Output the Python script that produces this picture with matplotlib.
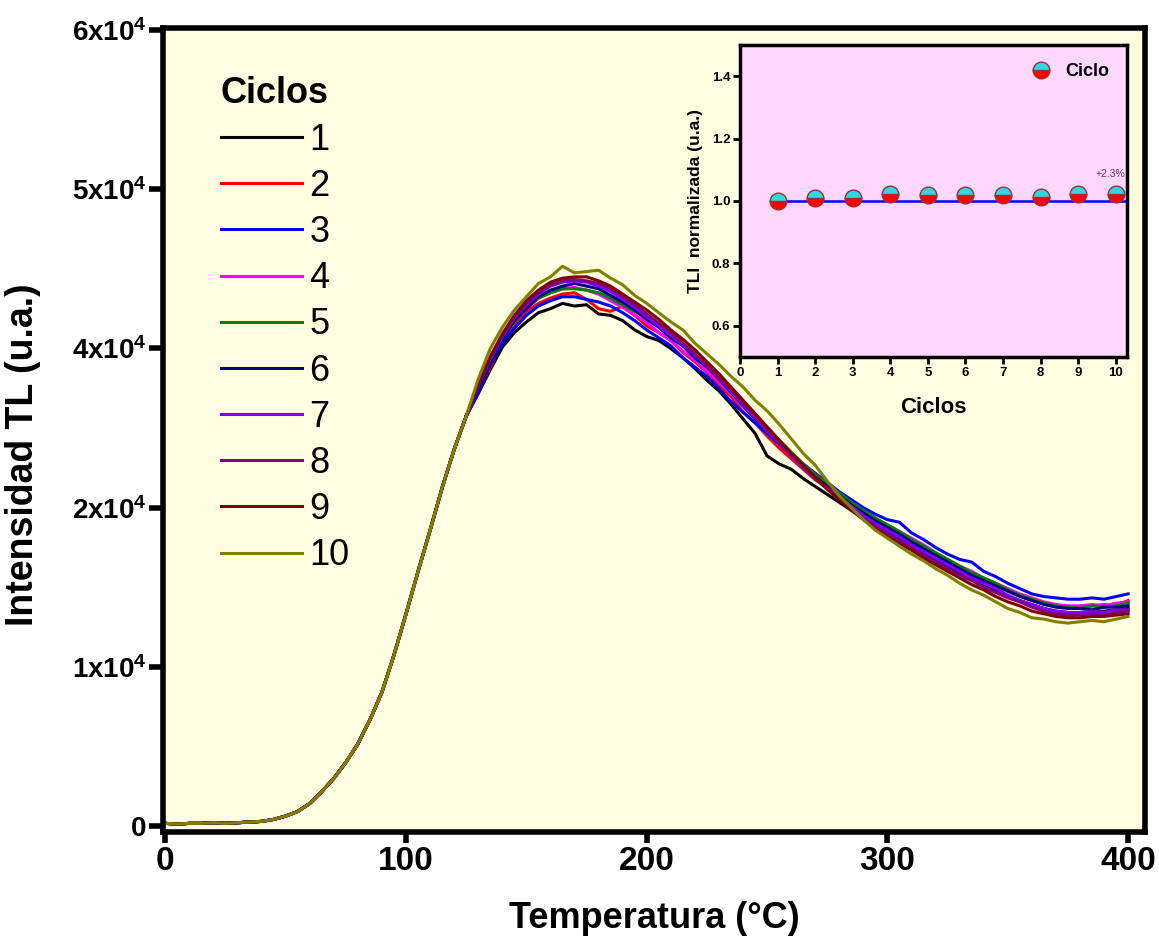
import numpy as np
import matplotlib
matplotlib.use('Agg')
import matplotlib.pyplot as plt

plt.rcParams['font.family'] = ['Liberation Sans', 'DejaVu Sans']
plt.rcParams['mathtext.fontset'] = 'custom'
plt.rcParams['mathtext.rm'] = 'Liberation Sans:bold'
plt.rcParams['mathtext.bf'] = 'Liberation Sans:bold'
plt.rcParams['mathtext.default'] = 'rm'

# temperatura en pasos de 5 °C
temp = np.arange(0, 401, 5)

# flanco de subida comun a todos los ciclos (0-125 °C), intensidad en 10^3 u.a.
subida = [0.2, 0.15, 0.2, 0.2, 0.25, 0.2, 0.25, 0.3, 0.35, 0.5, 0.75, 1.1, 1.7,
          2.6, 3.6, 4.8, 6.2, 8.0, 10.1, 12.9, 16.0, 19.2, 22.3, 25.5, 28.4, 30.9]

# curvas de brillo por ciclo desde 130 °C hasta 400 °C
c1 = [32.6, 34.4, 36.1, 37.2, 38.0, 38.7, 39.0, 39.4, 39.2, 39.3,
      38.6, 38.5, 38.1, 37.4, 36.9, 36.6, 36.0, 35.3, 34.5, 33.6,
      32.8, 31.8, 30.7, 29.6, 27.9, 27.3, 26.9, 26.2, 25.6, 25.0,
      24.4, 23.8, 23.3, 22.7, 22.2, 21.7, 21.3, 20.6, 20.1, 19.6,
      19.1, 18.6, 18.2, 17.8, 17.3, 17.0, 16.7, 16.4, 16.2, 16.1,
      16.0, 16.1, 16.2, 16.3, 16.4]
c2 = [32.8, 34.6, 36.6, 37.7, 38.8, 39.4, 39.8, 40.1, 40.2, 39.7,
      39.0, 38.8, 39.2, 38.5, 37.7, 37.2, 36.6, 35.7, 35.0, 34.2,
      33.2, 32.4, 31.2, 30.4, 29.4, 28.5, 27.7, 26.9, 26.1, 25.5,
      24.8, 24.2, 23.6, 23.0, 22.5, 22.0, 21.5, 20.9, 20.4, 19.9,
      19.4, 19.0, 18.6, 18.3, 17.8, 17.4, 17.0, 16.8, 16.6, 16.5,
      16.4, 16.6, 16.7, 16.6, 17.0]
c3 = [32.7, 34.8, 36.4, 37.5, 38.5, 39.2, 39.6, 39.9, 39.9, 39.7,
      39.5, 39.2, 38.7, 38.1, 37.4, 36.8, 36.2, 35.3, 34.6, 33.9,
      33.0, 32.0, 31.2, 30.4, 29.6, 28.8, 28.0, 27.3, 26.6, 25.9,
      25.2, 24.6, 24.0, 23.5, 23.1, 22.9, 22.1, 21.6, 21.0, 20.5,
      20.1, 19.9, 19.2, 18.8, 18.3, 17.9, 17.5, 17.3, 17.2, 17.1,
      17.1, 17.2, 17.1, 17.3, 17.5]
c4 = [33.1, 35.1, 36.8, 38.1, 39.0, 39.8, 40.2, 40.5, 40.6, 40.4,
      40.1, 39.6, 39.1, 38.5, 38.0, 37.2, 36.6, 35.8, 35.1, 34.3,
      33.5, 32.6, 31.6, 30.7, 29.8, 29.0, 28.1, 27.3, 26.5, 25.8,
      25.1, 24.4, 23.8, 23.2, 22.7, 22.2, 21.7, 21.2, 20.6, 20.1,
      19.6, 19.2, 18.7, 18.3, 17.9, 17.5, 17.2, 16.9, 16.7, 16.6,
      16.6, 16.7, 16.6, 16.8, 16.9]
c5 = [33.0, 35.0, 36.8, 38.0, 39.1, 39.8, 40.2, 40.5, 40.5, 40.4,
      40.2, 39.8, 39.3, 38.8, 38.3, 37.7, 37.1, 36.3, 35.5, 34.7,
      33.8, 32.9, 31.9, 30.9, 30.0, 29.1, 28.2, 27.3, 26.5, 25.8,
      25.1, 24.4, 23.8, 23.2, 22.7, 22.2, 21.6, 21.1, 20.6, 20.1,
      19.6, 19.1, 18.7, 18.3, 17.8, 17.4, 17.1, 16.8, 16.6, 16.5,
      16.4, 16.6, 16.5, 16.6, 16.8]
c6 = [33.0, 34.9, 36.7, 38.1, 39.0, 39.9, 40.4, 40.7, 40.9, 40.7,
      40.5, 40.0, 39.5, 38.9, 38.2, 37.6, 36.8, 36.2, 35.3, 34.6,
      33.7, 32.7, 31.7, 30.7, 29.8, 28.9, 28.0, 27.1, 26.3, 25.6,
      24.9, 24.2, 23.6, 23.0, 22.5, 22.0, 21.4, 20.9, 20.4, 19.9,
      19.4, 18.9, 18.5, 18.1, 17.7, 17.3, 17.0, 16.7, 16.5, 16.4,
      16.4, 16.3, 16.5, 16.5, 16.6]
c7 = [33.2, 35.2, 36.9, 38.3, 39.3, 40.1, 40.7, 41.0, 41.1, 41.0,
      40.7, 40.3, 39.7, 39.1, 38.4, 37.7, 37.0, 36.3, 35.5, 34.7,
      33.8, 32.8, 31.8, 30.8, 29.8, 28.9, 27.9, 27.0, 26.2, 25.5,
      24.8, 24.1, 23.4, 22.8, 22.3, 21.8, 21.2, 20.7, 20.2, 19.7,
      19.2, 18.7, 18.3, 17.9, 17.4, 17.0, 16.7, 16.4, 16.2, 16.1,
      16.1, 16.2, 16.1, 16.3, 16.3]
c8 = [33.2, 35.3, 37.0, 38.4, 39.4, 40.2, 40.8, 41.1, 41.2, 41.1,
      40.9, 40.5, 39.9, 39.3, 38.6, 37.9, 37.2, 36.4, 35.6, 34.7,
      33.8, 32.9, 31.9, 30.9, 29.9, 28.9, 28.0, 27.1, 26.2, 25.4,
      24.6, 23.9, 23.2, 22.6, 22.0, 21.5, 21.0, 20.4, 19.9, 19.4,
      18.9, 18.5, 18.0, 17.6, 17.2, 16.9, 16.5, 16.2, 16.0, 15.9,
      15.9, 16.0, 15.9, 16.1, 16.2]
c9 = [33.3, 35.4, 37.1, 38.5, 39.6, 40.4, 41.0, 41.3, 41.4, 41.4,
      41.1, 40.7, 40.1, 39.5, 38.9, 38.2, 37.4, 36.7, 35.9, 35.0,
      34.1, 33.1, 32.1, 31.1, 30.1, 29.1, 28.1, 27.2, 26.3, 25.4,
      24.6, 23.8, 23.1, 22.4, 21.8, 21.3, 20.8, 20.2, 19.7, 19.2,
      18.7, 18.2, 17.8, 17.3, 16.9, 16.6, 16.2, 16.0, 15.8, 15.7,
      15.7, 15.8, 15.8, 15.9, 16.0]
c10 = [33.7, 36.0, 37.6, 38.9, 39.9, 40.9, 41.4, 42.2, 41.7, 41.8,
       41.9, 41.3, 40.8, 40.0, 39.4, 38.7, 38.0, 37.4, 36.4, 35.6,
       34.8, 33.9, 33.1, 32.1, 31.3, 30.3, 29.2, 28.1, 27.2, 26.0,
       24.9, 24.0, 23.1, 22.3, 21.7, 21.1, 20.5, 20.0, 19.4, 18.9,
       18.3, 17.8, 17.4, 16.9, 16.4, 16.1, 15.7, 15.6, 15.4, 15.3,
       15.4, 15.5, 15.4, 15.6, 15.8]

curvas = [c1, c2, c3, c4, c5, c6, c7, c8, c9, c10]
etiquetas = ['1', '2', '3', '4', '5', '6', '7', '8', '9', '10']
colores = ['black', 'red', 'blue', 'magenta', 'green', 'navy',
           '#8000FF', 'purple', 'maroon', 'olive']

# TL integrada normalizada al primer ciclo
ciclos = [1, 2, 3, 4, 5, 6, 7, 8, 9, 10]
tli_norm = [1.000, 1.011, 1.011, 1.021, 1.019, 1.018, 1.019, 1.012, 1.022, 1.023]
referencia = 1.0

yticks = [0, 12000, 24000, 36000, 48000, 60000]


def etiqueta_y(v):
    n = int(round(v / 1e4))
    return '0' if n == 0 else f'{n}x10$^4$'


fig = plt.figure(figsize=(11.59, 9.38), dpi=100)
ax = fig.add_axes([0.1406, 0.113, 0.8473, 0.857])
ax.set_facecolor('#FFFDE1')

for c, lab, col in zip(curvas, etiquetas, colores):
    y = np.array(subida + c) * 1e3
    ax.plot(temp, y, color=col, lw=2.2, label=lab)

ax.set_xlim(-1, 407)
ax.set_ylim(-450, 60150)
ax.set_xticks([0, 100, 200, 300, 400])
ax.set_yticks(yticks)
ax.set_yticklabels([etiqueta_y(v) for v in yticks])
for sp in ax.spines.values():
    sp.set_linewidth(4)
ax.tick_params(axis='x', direction='out', length=8, width=4, labelsize=24, pad=2)
ax.tick_params(axis='y', direction='out', length=10, width=4, labelsize=20, pad=2)
for t in ax.get_xticklabels() + ax.get_yticklabels():
    t.set_fontweight('bold')

ax.set_xlabel('Temperatura (°C)', fontsize=26, fontweight='bold', labelpad=17)
ax.set_ylabel('Intensidad TL (u.a.)', fontsize=27, fontweight='bold')
ax.yaxis.set_label_coords(-0.124, 0.47)

leg = ax.legend(title='Ciclos', loc='upper left', bbox_to_anchor=(0.059, 0.94),
                frameon=False, fontsize=26, handlelength=2.25, handletextpad=0.2,
                labelspacing=0.31, borderpad=0, borderaxespad=0, alignment='left',
                title_fontproperties={'weight': 'bold', 'size': 26})

# recuadro: TL integrada normalizada frente al ciclo
ins = fig.add_axes([740 / 1159, 1 - 357 / 938, 387 / 1159, 312 / 938])
ins.set_facecolor('#FFD7FF')
ins.set_xlim(0, 10.3)
ins.set_ylim(0.5, 1.5)
ins.hlines(referencia, ciclos[0], ins.get_xlim()[1], color='blue', lw=1.8, zorder=2)
ins.plot(ciclos, tli_norm, ls='none', marker='o', ms=12, fillstyle='bottom',
         mfc='red', mfcalt='#33D6E0', mec='#A03030', mew=1, label='Ciclo', zorder=3)
cambio = (tli_norm[-1] - tli_norm[0]) / tli_norm[0] * 100
ins.annotate(f'+{cambio:.1f}%', (ciclos[-1], tli_norm[-1]), xytext=(-4, 12),
             textcoords='offset points', ha='center', fontsize=7.5, color='#5A3A5A')
ins.set_xticks(range(0, 11))
ins.set_yticks([0.6, 0.8, 1.0, 1.2, 1.4])
ins.set_yticklabels(['0.6', '0.8', '1.0', '1.2', '1.4'])
for sp in ins.spines.values():
    sp.set_linewidth(2.5)
ins.tick_params(direction='out', length=5, width=2, labelsize=9.5, pad=2)
for t in ins.get_xticklabels() + ins.get_yticklabels():
    t.set_fontweight('bold')
ins.set_xlabel('Ciclos', fontsize=16, fontweight='bold', labelpad=13)
ins.set_ylabel('TLI  normalizada (u.a.)', fontsize=12.5, fontweight='bold', labelpad=6)
ins.legend(loc='upper right', frameon=False, handletextpad=0.3, borderaxespad=0.6,
           prop={'weight': 'bold', 'size': 13})

fig.savefig('out.png', dpi=100)
